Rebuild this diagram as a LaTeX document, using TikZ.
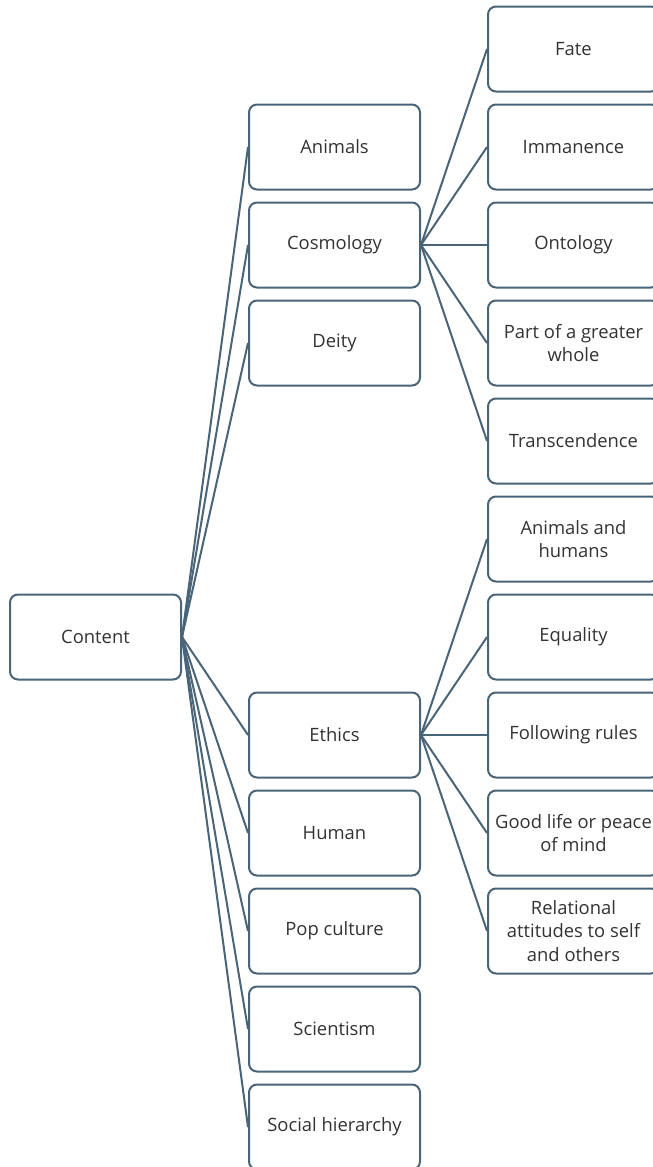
\documentclass[tikz,border=0pt]{standalone}
\usepackage{fontspec}
\setmainfont{Open Sans}
\definecolor{edge}{HTML}{4A6478}
\definecolor{txt}{HTML}{333333}
\begin{document}
\begin{tikzpicture}[x=0.75pt,y=-0.75pt,
  box/.style={draw=edge,line width=1.5pt,rounded corners=6pt,fill=white,
    minimum width=171*0.75pt,minimum height=85*0.75pt,inner sep=0pt,
    align=center,text=txt,font=\fontsize{13.8pt}{17.5pt}\selectfont},
  link/.style={draw=edge,line width=1.5pt}]
\clip (0,0) rectangle (653,1167);
\fill[white] (0,0) rectangle (653,1167);
% root
\node[box] (content) at (95.5,637) {Content};
% middle column
\node[box] (animals) at (334.5,147) {Animals};
\node[box] (cosmology) at (334.5,245) {Cosmology};
\node[box] (deity) at (334.5,343) {Deity};
\node[box] (ethics) at (334.5,735) {Ethics};
\node[box] (human) at (334.5,833) {Human};
\node[box] (pop) at (334.5,931) {Pop culture};
\node[box] (scient) at (334.5,1029) {Scientism};
\node[box] (social) at (334.5,1127) {Social hierarchy};
% right column
\node[box] (fate) at (573.5,49) {Fate};
\node[box] (imman) at (573.5,147) {Immanence};
\node[box] (onto) at (573.5,245) {Ontology};
\node[box] (part) at (573.5,343) {Part of a greater\\whole};
\node[box] (trans) at (573.5,441) {Transcendence};
\node[box] (anhu) at (573.5,539) {Animals and\\humans};
\node[box] (equal) at (573.5,637) {Equality};
\node[box] (follow) at (573.5,735) {Following rules};
\node[box] (good) at (573.5,833) {Good life or peace\\of mind};
\node[box] (relat) at (573.5,931) {Relational\\attitudes to self\\and others};
% connectors
\foreach \c in {animals,cosmology,deity,ethics,human,pop,scient,social}
  \draw[link] (content.east) -- (\c.west);
\foreach \c in {fate,imman,onto,part,trans}
  \draw[link] (cosmology.east) -- (\c.west);
\foreach \c in {anhu,equal,follow,good,relat}
  \draw[link] (ethics.east) -- (\c.west);
\end{tikzpicture}
\end{document}
